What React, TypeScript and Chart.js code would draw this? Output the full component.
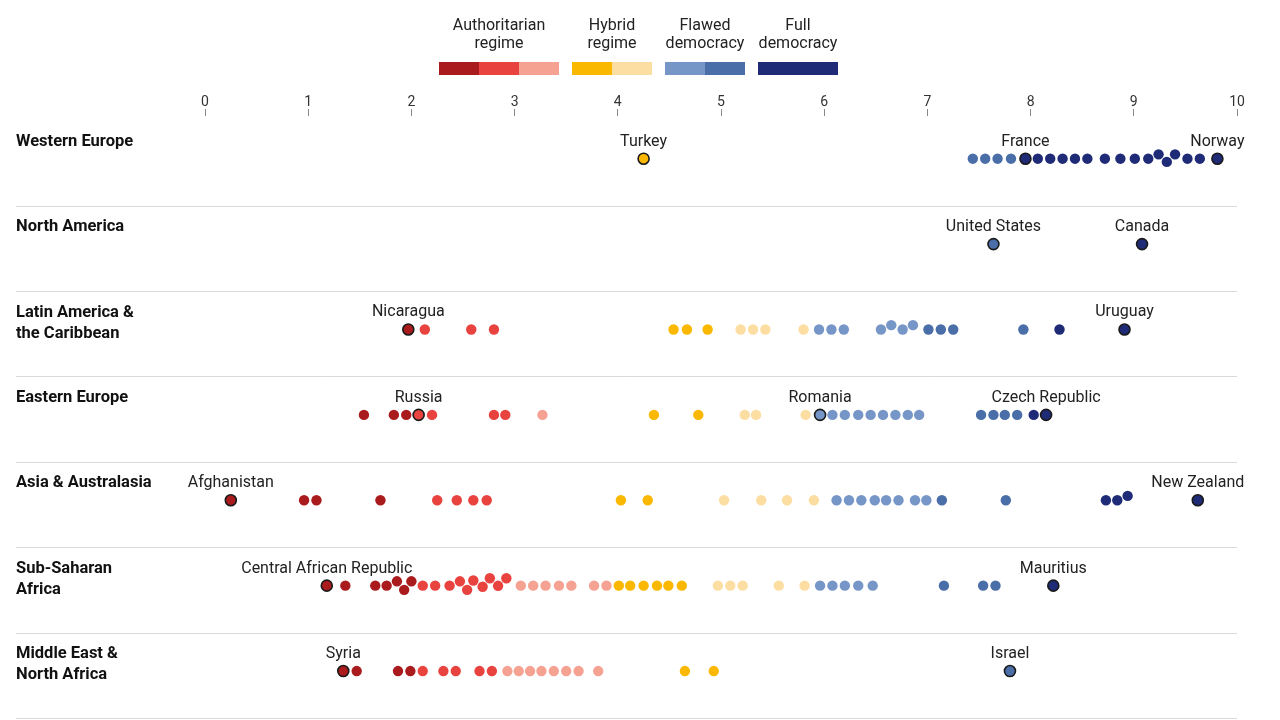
import React, { useEffect, useRef } from "react";
import { Chart, registerables } from "chart.js";

Chart.register(...registerables);

// Democracy Index scores (0-10), one list per region
const scoreTicks = [0, 1, 2, 3, 4, 5, 6, 7, 8, 9, 10];

const regionNames = [
  ["Western Europe"],
  ["North America"],
  ["Latin America &", "the Caribbean"],
  ["Eastern Europe"],
  ["Asia & Australasia"],
  ["Sub-Saharan", "Africa"],
  ["Middle East &", "North Africa"],
];

const westernEurope = [
  4.25, 7.44, 7.56, 7.68, 7.81, 7.95, 8.07, 8.19, 8.31, 8.43, 8.55, 8.72, 8.87,
  9.01, 9.14, 9.24, 9.32, 9.4, 9.52, 9.64, 9.81,
];
const northAmerica = [7.64, 9.08];
const latinAmerica = [
  1.97, 2.13, 2.58, 2.8, 4.54, 4.67, 4.87, 5.19, 5.31, 5.43, 5.8, 5.95, 6.07,
  6.19, 6.55, 6.65, 6.76, 6.86, 7.01, 7.13, 7.25, 7.93, 8.28, 8.91,
];
const easternEurope = [
  1.54, 1.83, 1.95, 2.07, 2.2, 2.8, 2.91, 3.27, 4.35, 4.78, 5.23, 5.34, 5.82,
  5.96, 6.08, 6.2, 6.33, 6.45, 6.57, 6.69, 6.81, 6.92, 7.52, 7.64, 7.75, 7.87,
  8.03, 8.15,
];
const asiaAustralasia = [
  0.25, 0.96, 1.08, 1.7, 2.25, 2.44, 2.6, 2.73, 4.03, 4.29, 5.03, 5.39, 5.64,
  5.9, 6.12, 6.24, 6.36, 6.49, 6.6, 6.72, 6.88, 6.99, 7.14, 7.76, 8.73, 8.84,
  8.94, 9.62,
];
const subSaharanAfrica = [
  1.18, 1.36, 1.65, 1.76, 1.86, 1.93, 2.0, 2.11, 2.23, 2.37, 2.47, 2.54, 2.6,
  2.69, 2.76, 2.84, 2.92, 3.06, 3.18, 3.3, 3.43, 3.55, 3.77, 3.89, 4.01, 4.12,
  4.25, 4.38, 4.49, 4.62, 4.97, 5.09, 5.21, 5.56, 5.81, 5.96, 6.08, 6.2, 6.33,
  6.47, 7.16, 7.54, 7.66, 8.22,
];
const middleEastNorthAfrica = [
  1.34, 1.47, 1.87, 1.99, 2.11, 2.31, 2.43, 2.66, 2.78, 2.93, 3.04, 3.15, 3.26,
  3.38, 3.5, 3.62, 3.81, 4.65, 4.93, 7.8,
];

// Highlighted countries per region: [name, score]
const westernEuropeNamed: [string, number][] = [
  ["Turkey", 4.25],
  ["France", 7.95],
  ["Norway", 9.81],
];
const northAmericaNamed: [string, number][] = [
  ["United States", 7.64],
  ["Canada", 9.08],
];
const latinAmericaNamed: [string, number][] = [
  ["Nicaragua", 1.97],
  ["Uruguay", 8.91],
];
const easternEuropeNamed: [string, number][] = [
  ["Russia", 2.07],
  ["Romania", 5.96],
  ["Czech Republic", 8.15],
];
const asiaAustralasiaNamed: [string, number][] = [
  ["Afghanistan", 0.25],
  ["New Zealand", 9.62],
];
const subSaharanAfricaNamed: [string, number][] = [
  ["Central African Republic", 1.18],
  ["Mauritius", 8.22],
];
const middleEastNorthAfricaNamed: [string, number][] = [
  ["Syria", 1.34],
  ["Israel", 7.8],
];

// Score bands: upper edges and their colours
const bandEdges = [2.05, 2.93, 4, 4.97, 5.93, 7, 7.95];
const bandColors = [
  "#a91b1d",
  "#e8433f",
  "#f5a293",
  "#fab800",
  "#fcdea2",
  "#7796c8",
  "#4a6ea8",
  "#1f2b76",
];

const legendTitles = [
  ["Authoritarian", "regime"],
  ["Hybrid", "regime"],
  ["Flawed", "democracy"],
  ["Full", "democracy"],
];
const legendBands = [[0, 1, 2], [3, 4], [5, 6], [7, 7]];

const FONT = "Roboto, 'Noto Sans', sans-serif";

function bandColor(v: number): string {
  let i = 0;
  while (i < bandEdges.length && v >= bandEdges[i]) i++;
  return bandColors[i];
}

// Simple beeswarm: lift dots off the baseline only as far as needed to avoid overlap
function swarm(xs: number[], d: number): number[] {
  const order = xs.map((_, i) => i).sort((a, b) => xs[a] - xs[b]);
  const placed: { x: number; y: number }[] = [];
  const out = new Array(xs.length).fill(0);
  for (const i of order) {
    const x = xs[i];
    const near = placed.filter((p) => Math.abs(p.x - x) < d);
    const cands = [0];
    for (const p of near) {
      const dy = Math.sqrt(d * d - (p.x - x) ** 2);
      cands.push(p.y + dy, p.y - dy);
    }
    cands.sort((a, b) => Math.abs(a) - Math.abs(b) || a - b);
    let y = 0;
    for (const c of cands) {
      if (near.every((p) => (p.x - x) ** 2 + (p.y - c) ** 2 >= d * d - 1e-6)) {
        y = c;
        break;
      }
    }
    placed.push({ x, y });
    out[i] = y;
  }
  return out;
}

export default function App() {
  const ref = useRef<HTMLCanvasElement>(null);

  useEffect(() => {
    const canvas = ref.current;
    if (!canvas) return;

    const rowValues = [
      westernEurope,
      northAmerica,
      latinAmerica,
      easternEurope,
      asiaAustralasia,
      subSaharanAfrica,
      middleEastNorthAfrica,
    ];
    const rowNamed = [
      westernEuropeNamed,
      northAmericaNamed,
      latinAmericaNamed,
      easternEuropeNamed,
      asiaAustralasiaNamed,
      subSaharanAfricaNamed,
      middleEastNorthAfricaNamed,
    ];

    const isNamed = (ri: number, v: number) =>
      rowNamed[ri].some(([, s]) => s === v);

    const datasets = rowValues.map((vals, ri) => ({
      label: regionNames[ri].join(" "),
      data: vals.map((v) => ({ x: v, y: ri })),
      pointBackgroundColor: vals.map(bandColor),
      pointBorderColor: "#1a1a1a",
      pointBorderWidth: vals.map((v) => (isNamed(ri, v) ? 1.6 : 0)),
      pointRadius: vals.map((v) => (isNamed(ri, v) ? 5.5 : 5.2)),
      pointHoverRadius: vals.map((v) => (isNamed(ri, v) ? 5.5 : 5.2)),
      showLine: false,
    }));

    const decorations = {
      id: "decorations",
      beforeDatasetsDraw(chart: any) {
        const { ctx, scales, chartArea } = chart;
        ctx.save();
        ctx.strokeStyle = "#d9d9d9";
        ctx.lineWidth = 1;
        for (let i = 0; i < rowValues.length; i++) {
          const y = Math.round(scales.y.getPixelForValue(i + 0.55)) + 0.5;
          ctx.beginPath();
          ctx.moveTo(16, y);
          ctx.lineTo(chartArea.right, y);
          ctx.stroke();
        }
        ctx.restore();
      },
      afterDatasetsDraw(chart: any) {
        const { ctx, scales } = chart;
        ctx.save();
        ctx.textBaseline = "middle";

        // region names
        ctx.fillStyle = "#111";
        ctx.font = `bold 16.5px ${FONT}`;
        ctx.textAlign = "left";
        regionNames.forEach((lines, ri) => {
          const y0 = scales.y.getPixelForValue(ri) - 17;
          lines.forEach((t, li) => ctx.fillText(t, 16, y0 + li * 21));
        });

        // country names above highlighted dots
        ctx.fillStyle = "#222";
        ctx.font = `16px ${FONT}`;
        ctx.textAlign = "center";
        rowNamed.forEach((list, ri) => {
          const y = scales.y.getPixelForValue(ri) - 17;
          list.forEach(([name, v]) => {
            ctx.fillText(name, scales.x.getPixelForValue(v), y);
          });
        });

        // colour key
        const swatchW = 40;
        const gap = 13;
        let x = 439;
        legendTitles.forEach((lines, gi) => {
          const bands = legendBands[gi];
          const w = bands.length * swatchW;
          bands.forEach((b, k) => {
            ctx.fillStyle = bandColors[b];
            ctx.fillRect(x + k * swatchW, 62, swatchW, 13);
          });
          ctx.fillStyle = "#222";
          ctx.font = `16px ${FONT}`;
          lines.forEach((t, li) => ctx.fillText(t, x + w / 2, 26 + li * 18));
          x += w + gap;
        });
        ctx.restore();
      },
    };

    const chart = new Chart(canvas, {
      type: "scatter",
      data: { datasets },
      plugins: [decorations],
      options: {
        animation: false,
        responsive: false,
        devicePixelRatio: 1,
        events: [],
        clip: false,
        layout: { padding: { left: 205, right: 43, top: 85, bottom: 0 } },
        plugins: { legend: { display: false }, tooltip: { enabled: false } },
        scales: {
          x: {
            type: "linear",
            position: "top",
            min: 0,
            max: 10,
            afterFit: (s: any) => {
              s.height = 31;
            },
            afterBuildTicks: (s: any) => {
              s.ticks = scoreTicks.map((v) => ({ value: v }));
            },
            ticks: {
              color: "#333",
              padding: -2,
              font: { family: FONT, size: 14 },
            },
            grid: {
              drawOnChartArea: false,
              drawTicks: true,
              tickLength: 7,
              tickColor: "#8a8a8a",
              tickWidth: 1,
            },
            border: { display: false },
          },
          y: {
            type: "linear",
            min: -0.5,
            max: 6.49,
            reverse: true,
            display: false,
          },
        },
      } as any,
    });

    // lay out overlapping dots as a swarm, in pixels, then map back to row units
    const xs = chart.scales.x;
    const ys = chart.scales.y;
    const pxPerRow = Math.abs(ys.getPixelForValue(1) - ys.getPixelForValue(0));
    rowValues.forEach((vals, ri) => {
      const px = vals.map((v) => xs.getPixelForValue(v));
      const off = swarm(px, 11.2);
      chart.data.datasets[ri].data = vals.map((v, i) => ({
        x: v,
        y: ri + off[i] / pxPerRow,
      }));
    });
    chart.update("none");

    return () => chart.destroy();
  }, []);

  return (
    <div
      style={{
        position: "fixed",
        left: 0,
        top: 0,
        width: 1280,
        height: 720,
        background: "#fff",
      }}
    >
      <canvas ref={ref} width={1280} height={720} style={{ display: "block" }} />
    </div>
  );
}
